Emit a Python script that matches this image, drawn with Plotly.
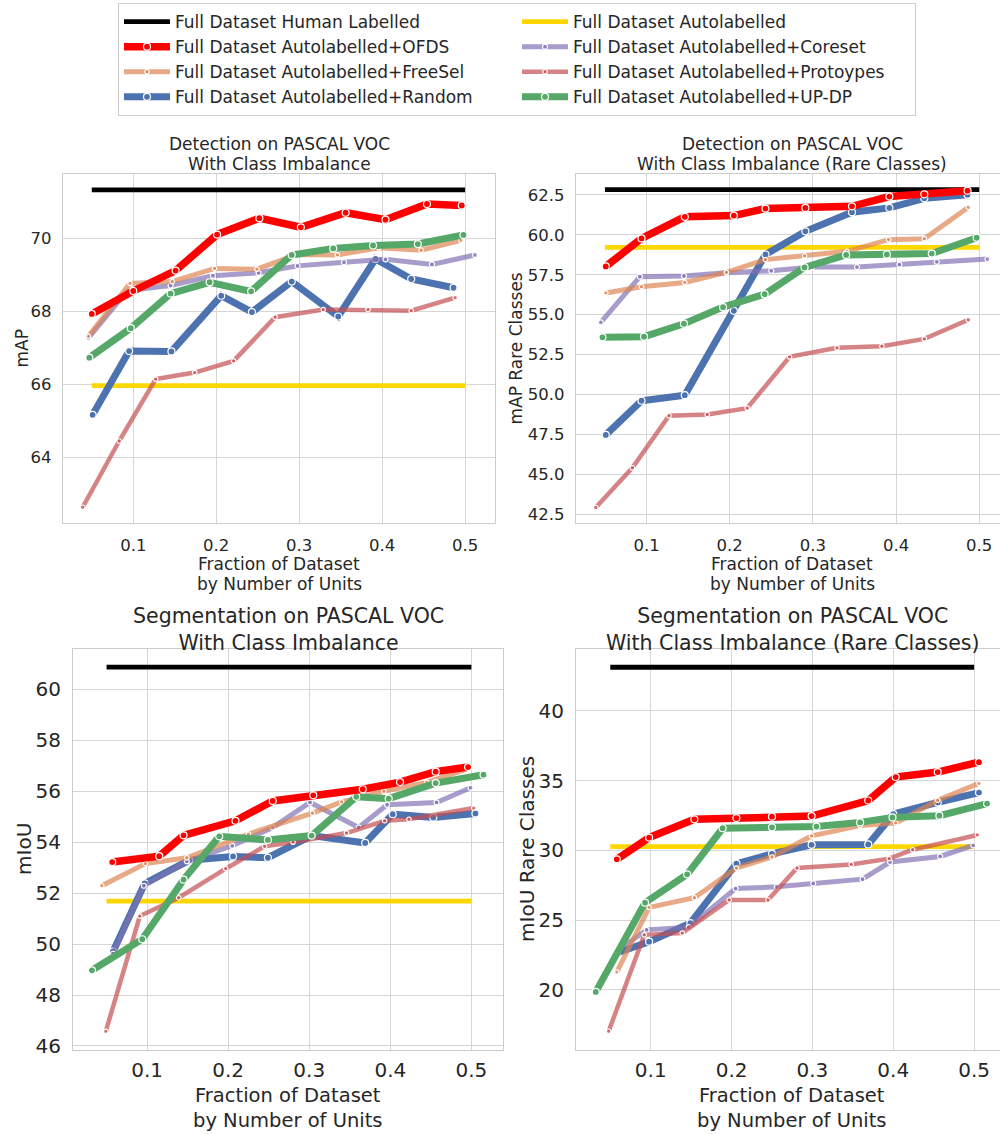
import plotly.graph_objects as go

# ---------------- data ----------------
frac_ticks = [0.1, 0.2, 0.3, 0.4, 0.5]
frac_ticktext = ["0.1", "0.2", "0.3", "0.4", "0.5"]
baseline_x = [0.05, 0.5]

# Detection, class imbalance (mAP)
det_human = 71.34
det_auto = 65.96
det_ofds_x = [0.050, 0.100, 0.151, 0.201, 0.252, 0.302, 0.356, 0.404, 0.454, 0.496]
det_ofds_y = [67.93, 68.56, 69.12, 70.11, 70.56, 70.31, 70.71, 70.52, 70.95, 70.91]
det_rand_x = [0.051, 0.095, 0.146, 0.206, 0.243, 0.291, 0.347, 0.392, 0.435, 0.486]
det_rand_y = [65.16, 66.91, 66.90, 68.43, 67.98, 68.82, 67.86, 69.44, 68.89, 68.65]
det_updp_x = [0.047, 0.097, 0.145, 0.192, 0.242, 0.291, 0.341, 0.389, 0.443, 0.498]
det_updp_y = [66.73, 67.54, 68.49, 68.80, 68.55, 69.55, 69.73, 69.81, 69.85, 70.10]
det_free_x = [0.046, 0.096, 0.147, 0.198, 0.249, 0.297, 0.346, 0.396, 0.447, 0.495]
det_free_y = [67.32, 68.77, 68.82, 69.18, 69.16, 69.56, 69.55, 69.75, 69.68, 69.95]
det_core_x = [0.046, 0.093, 0.145, 0.196, 0.251, 0.298, 0.354, 0.404, 0.460, 0.512]
det_core_y = [67.27, 68.57, 68.71, 68.98, 69.06, 69.25, 69.35, 69.43, 69.29, 69.55]
det_proto_x = [0.039, 0.083, 0.127, 0.174, 0.221, 0.271, 0.329, 0.383, 0.435, 0.488]
det_proto_y = [62.62, 64.44, 66.14, 66.32, 66.64, 67.84, 68.05, 68.05, 68.02, 68.38]

# Detection, rare classes (mAP Rare Classes)
detr_human = 62.83
detr_auto = 59.22
detr_ofds_x = [0.051, 0.094, 0.146, 0.205, 0.243, 0.291, 0.347, 0.392, 0.434, 0.486]
detr_ofds_y = [58.02, 59.78, 61.13, 61.21, 61.65, 61.69, 61.79, 62.40, 62.54, 62.77]
detr_rand_x = [0.051, 0.094, 0.146, 0.205, 0.243, 0.291, 0.347, 0.392, 0.434, 0.486]
detr_rand_y = [47.46, 49.60, 49.95, 55.24, 58.77, 60.22, 61.42, 61.69, 62.29, 62.52]
detr_updp_x = [0.047, 0.097, 0.145, 0.192, 0.242, 0.290, 0.340, 0.389, 0.443, 0.497]
detr_updp_y = [53.58, 53.62, 54.43, 55.47, 56.28, 57.96, 58.74, 58.77, 58.83, 59.82]
detr_free_x = [0.051, 0.094, 0.146, 0.196, 0.243, 0.290, 0.341, 0.391, 0.434, 0.487]
detr_free_y = [56.36, 56.75, 57.02, 57.65, 58.45, 58.68, 58.97, 59.70, 59.76, 61.73]
detr_core_x = [0.045, 0.092, 0.145, 0.196, 0.250, 0.299, 0.353, 0.404, 0.449, 0.510]
detr_core_y = [54.51, 57.38, 57.42, 57.62, 57.75, 57.98, 57.98, 58.14, 58.31, 58.48]
detr_proto_x = [0.039, 0.083, 0.127, 0.173, 0.221, 0.272, 0.329, 0.383, 0.434, 0.487]
detr_proto_y = [42.91, 45.40, 48.66, 48.74, 49.14, 52.35, 52.92, 53.02, 53.48, 54.68]

# Segmentation, class imbalance (mIoU)
seg_human = 60.87
seg_auto = 51.69
seg_ofds_x = [0.057, 0.115, 0.145, 0.209, 0.255, 0.305, 0.366, 0.412, 0.456, 0.496]
seg_ofds_y = [53.22, 53.45, 54.27, 54.84, 55.62, 55.84, 56.08, 56.36, 56.77, 56.95]
seg_rand_x = [0.058, 0.097, 0.152, 0.206, 0.249, 0.303, 0.369, 0.403, 0.453, 0.505]
seg_rand_y = [49.71, 52.38, 53.29, 53.44, 53.39, 54.26, 53.97, 55.10, 54.97, 55.13]
seg_updp_x = [0.032, 0.094, 0.145, 0.189, 0.249, 0.303, 0.358, 0.398, 0.456, 0.515]
seg_updp_y = [48.97, 50.19, 52.53, 54.23, 54.09, 54.26, 55.78, 55.71, 56.32, 56.65]
seg_free_x = [0.044, 0.098, 0.149, 0.225, 0.304, 0.340, 0.392, 0.445, 0.497]
seg_free_y = [52.29, 53.16, 53.39, 54.32, 55.14, 55.58, 56.00, 56.35, 56.90]
seg_core_x = [0.058, 0.096, 0.149, 0.205, 0.255, 0.301, 0.361, 0.396, 0.457, 0.499]
seg_core_y = [49.62, 52.29, 53.25, 53.86, 54.58, 55.56, 54.58, 55.47, 55.56, 56.14]
seg_proto_x = [0.049, 0.091, 0.139, 0.197, 0.245, 0.280, 0.346, 0.393, 0.423, 0.503]
seg_proto_y = [46.57, 51.10, 51.82, 52.96, 53.84, 54.00, 54.36, 54.84, 54.90, 55.34]

# Segmentation, rare classes (mIoU Rare Classes)
segr_human = 43.13
segr_auto = 30.28
segr_ofds_x = [0.058, 0.098, 0.154, 0.206, 0.250, 0.299, 0.369, 0.403, 0.455, 0.506]
segr_ofds_y = [29.36, 30.92, 32.23, 32.32, 32.42, 32.46, 33.58, 35.26, 35.62, 36.33]
segr_rand_x = [0.058, 0.098, 0.149, 0.206, 0.250, 0.299, 0.369, 0.400, 0.455, 0.506]
segr_rand_y = [22.65, 23.46, 24.79, 29.05, 29.76, 30.40, 30.43, 32.60, 33.44, 34.15]
segr_updp_x = [0.032, 0.093, 0.145, 0.189, 0.250, 0.305, 0.359, 0.399, 0.457, 0.516]
segr_updp_y = [19.86, 26.26, 28.29, 31.59, 31.66, 31.71, 32.01, 32.37, 32.49, 33.36]
segr_free_x = [0.058, 0.098, 0.154, 0.206, 0.250, 0.299, 0.359, 0.403, 0.455, 0.506]
segr_free_y = [21.28, 25.92, 26.61, 28.74, 29.53, 31.04, 31.78, 31.97, 33.60, 34.81]
segr_core_x = [0.058, 0.095, 0.147, 0.205, 0.256, 0.301, 0.362, 0.396, 0.458, 0.499]
segr_core_y = [22.77, 24.31, 24.50, 27.27, 27.39, 27.63, 27.94, 29.17, 29.57, 30.36]
segr_proto_x = [0.048, 0.092, 0.139, 0.197, 0.245, 0.281, 0.348, 0.395, 0.424, 0.504]
segr_proto_y = [17.04, 23.95, 24.08, 26.45, 26.45, 28.74, 29.00, 29.41, 30.05, 31.11]

# ---------------- styles ----------------
FONT = "DejaVu Sans"
TXT = "#262626"
GRID = "#d6d6d6"
W, H = 1000, 1134

names = {
    "human": "Full Dataset Human Labelled",
    "auto": "Full Dataset Autolabelled",
    "ofds": "Full Dataset Autolabelled+OFDS",
    "core": "Full Dataset Autolabelled+Coreset",
    "free": "Full Dataset Autolabelled+FreeSel",
    "proto": "Full Dataset Autolabelled+Protoypes",
    "rand": "Full Dataset Autolabelled+Random",
    "updp": "Full Dataset Autolabelled+UP-DP",
}
legend_rank = {"human": 1, "auto": 2, "ofds": 3, "core": 4, "free": 5,
               "proto": 6, "rand": 7, "updp": 8}
style = {
    "human": dict(color="#000000", width=4.8, msize=0),
    "auto": dict(color="#ffd700", width=4.8, msize=0),
    "rand": dict(color="#4c72b0", width=7, msize=7),
    "core": dict(color="rgba(129,114,179,0.7)", width=5, msize=5),
    "proto": dict(color="rgba(196,78,82,0.7)", width=4.5, msize=4.5),
    "free": dict(color="rgba(221,132,82,0.7)", width=5, msize=4.5),
    "updp": dict(color="#55a868", width=7, msize=7),
    "ofds": dict(color="#ff0000", width=7.5, msize=7),
}
draw_order = ["human", "auto", "rand", "core", "proto", "free", "updp", "ofds"]

panels = [
    dict(ax="", human=det_human, auto=det_auto,
         series={"ofds": (det_ofds_x, det_ofds_y), "rand": (det_rand_x, det_rand_y),
                 "updp": (det_updp_x, det_updp_y), "free": (det_free_x, det_free_y),
                 "core": (det_core_x, det_core_y), "proto": (det_proto_x, det_proto_y)}),
    dict(ax="2", human=detr_human, auto=detr_auto,
         series={"ofds": (detr_ofds_x, detr_ofds_y), "rand": (detr_rand_x, detr_rand_y),
                 "updp": (detr_updp_x, detr_updp_y), "free": (detr_free_x, detr_free_y),
                 "core": (detr_core_x, detr_core_y), "proto": (detr_proto_x, detr_proto_y)}),
    dict(ax="3", human=seg_human, auto=seg_auto,
         series={"ofds": (seg_ofds_x, seg_ofds_y), "rand": (seg_rand_x, seg_rand_y),
                 "updp": (seg_updp_x, seg_updp_y), "free": (seg_free_x, seg_free_y),
                 "core": (seg_core_x, seg_core_y), "proto": (seg_proto_x, seg_proto_y)}),
    dict(ax="4", human=segr_human, auto=segr_auto,
         series={"ofds": (segr_ofds_x, segr_ofds_y), "rand": (segr_rand_x, segr_rand_y),
                 "updp": (segr_updp_x, segr_updp_y), "free": (segr_free_x, segr_free_y),
                 "core": (segr_core_x, segr_core_y), "proto": (segr_proto_x, segr_proto_y)}),
]

fig = go.Figure()
for pi, p in enumerate(panels):
    for key in draw_order:
        st = style[key]
        if key in ("human", "auto"):
            xs, ys = baseline_x, [p[key], p[key]]
            mode = "lines"
            marker = None
        else:
            xs, ys = p["series"][key]
            mode = "lines+markers"
            marker = dict(size=st["msize"], color=st["color"],
                          line=dict(color="white", width=1.2))
        fig.add_trace(go.Scatter(
            x=xs, y=ys, mode=mode, name=names[key],
            line=dict(color=st["color"], width=st["width"]),
            marker=marker,
            xaxis="x" + p["ax"], yaxis="y" + p["ax"],
            legendgroup=key, showlegend=(pi == 0),
            legendrank=legend_rank[key],
        ))

def px_x(v):
    return v / W

def px_y(v):
    return 1 - v / H

axis_common = dict(showgrid=True, gridcolor=GRID, gridwidth=1, zeroline=False,
                   showline=True, linecolor="#cccccc", linewidth=1.2,
                   color=TXT, ticks="")

top_font = dict(family=FONT, size=16.5, color=TXT)
bot_font = dict(family=FONT, size=20, color=TXT)

dom = {
    "": ([63, 495], [175, 527], [0.0153, 0.536], [62.18, 71.78], [64, 66, 68, 70], ["64", "66", "68", "70"], top_font, True, 7),
    "2": ([576, 1000], [175, 527], [0.0152, 0.525], [41.92, 63.83],
          [42.5, 45, 47.5, 50, 52.5, 55, 57.5, 60, 62.5],
          ["42.5", "45.0", "47.5", "50.0", "52.5", "55.0", "57.5", "60.0", "62.5"], top_font, False, 7),
    "3": ([73, 503], [654, 1057], [0.0086, 0.539], [45.86, 61.57],
          [46, 48, 50, 52, 54, 56, 58, 60], ["46", "48", "50", "52", "54", "56", "58", "60"], bot_font, True, 2),
    "4": ([576, 1000], [654, 1057], [0.0076, 0.532], [15.73, 44.41],
          [20, 25, 30, 35, 40], ["20", "25", "30", "35", "40"], bot_font, False, 2),
}

layout = dict(
    width=W, height=H, margin=dict(l=0, r=0, t=0, b=0),
    paper_bgcolor="white", plot_bgcolor="white",
    font=dict(family=FONT, color=TXT),
    showlegend=True,
    legend=dict(orientation="h", x=0.118, y=1 - 3 / H, xanchor="left", yanchor="top",
                bgcolor="white", bordercolor="#cccccc", borderwidth=1,
                font=dict(family=FONT, size=17, color=TXT),
                entrywidth=337, entrywidthmode="pixels", itemwidth=46,
                traceorder="normal"),
)

for ax, (xd, yd, xr, yr, yt, ytt, fnt, full_box, xstand) in dom.items():
    layout["xaxis" + ax] = dict(
        axis_common, domain=[px_x(xd[0]), px_x(xd[1])], range=xr,
        anchor="y" + ax, tickvals=frac_ticks, ticktext=frac_ticktext,
        tickfont=fnt, mirror=True, ticklabelstandoff=xstand)
    layout["yaxis" + ax] = dict(
        axis_common, domain=[px_y(yd[1]), px_y(yd[0])], range=yr,
        anchor="x" + ax, tickvals=yt, ticktext=ytt, tickfont=fnt,
        mirror=full_box, ticklabelstandoff=7)

annotations = []

def ann(text, x, y, size, angle=0):
    annotations.append(dict(text=text, x=px_x(x), y=px_y(y), xref="paper", yref="paper",
                            showarrow=False, xanchor="center", yanchor="middle",
                            textangle=angle, borderpad=0,
                            font=dict(family=FONT, size=size, color=TXT)))

# subplot titles
ann("Detection on PASCAL VOC", 279, 145, 17)
ann("With Class Imbalance", 279, 165, 17)
ann("Detection on PASCAL VOC", 792, 145, 17)
ann("With Class Imbalance (Rare Classes)", 792, 165, 17)
ann("Segmentation on PASCAL VOC<br>With Class Imbalance", 288, 634, 20.5)
ann("Segmentation on PASCAL VOC<br>With Class Imbalance (Rare Classes)", 792, 634, 20.5)

# x-axis titles
ann("Fraction of Dataset", 279, 568, 17)
ann("by Number of Units", 279, 588, 17)
ann("Fraction of Dataset", 792, 568, 17)
ann("by Number of Units", 792, 588, 17)
ann("Fraction of Dataset<br>by Number of Units", 288, 1116, 19.5)
ann("Fraction of Dataset<br>by Number of Units", 792, 1116, 19.5)

# y-axis titles
ann("mAP", 22, 351, 17, -90)
ann("mAP Rare Classes", 516, 351, 17, -90)
ann("mIoU", 24, 855, 20, -90)
ann("mIoU Rare Classes", 527, 855, 20, -90)

layout["annotations"] = annotations
fig.update_layout(layout)
fig.write_html("out.html")
